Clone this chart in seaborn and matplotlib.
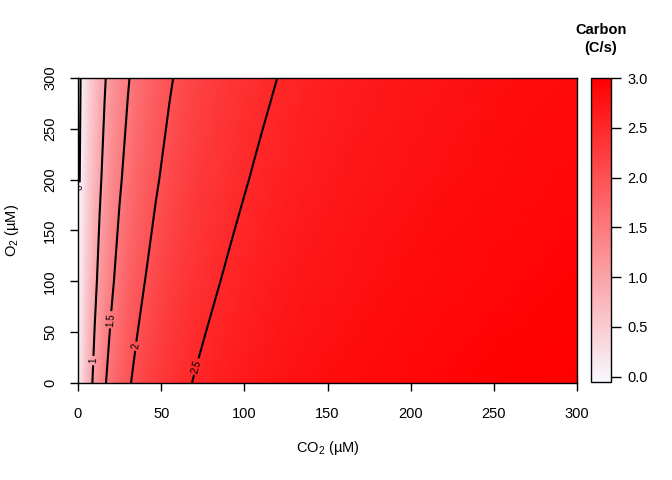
import numpy as np
import matplotlib
matplotlib.use("Agg")
import matplotlib.pyplot as plt
import seaborn as sns

# ---- data ----
co2 = [1, 2, 4, 6, 8, 10, 13, 16, 20, 25, 30, 35, 40, 47, 55,
       62, 66, 70, 75, 80, 85, 90, 95, 100, 105, 110, 115, 120, 125, 135,
       160, 200, 250, 300]
o2 = [0, 100, 200, 300]
carbon_o2_0 = [0.160, 0.305, 0.557, 0.769, 0.949, 1.104, 1.300, 1.463, 1.640,
               1.817, 1.957, 2.071, 2.166, 2.275, 2.374,
               2.445, 2.480, 2.512, 2.548, 2.580, 2.610, 2.636, 2.661, 2.683,
               2.703, 2.722, 2.740, 2.756, 2.771, 2.798,
               2.853, 2.915, 2.966, 3.000]
carbon_o2_100 = [0.064, 0.188, 0.410, 0.601, 0.767, 0.914, 1.103, 1.263, 1.442,
                 1.624, 1.771, 1.893, 1.996, 2.115, 2.225,
                 2.305, 2.347, 2.384, 2.425, 2.462, 2.496, 2.527, 2.555, 2.581,
                 2.605, 2.627, 2.647, 2.667, 2.684, 2.716,
                 2.779, 2.852, 2.914, 2.957]
carbon_o2_200 = [-0.005, 0.105, 0.302, 0.475, 0.629, 0.766, 0.947, 1.102, 1.279,
                 1.461, 1.612, 1.739, 1.847, 1.973, 2.092,
                 2.178, 2.222, 2.263, 2.309, 2.351, 2.390, 2.424, 2.456, 2.485,
                 2.512, 2.537, 2.560, 2.581, 2.601, 2.638,
                 2.710, 2.794, 2.864, 2.914]
carbon_o2_300 = [-0.055, 0.042, 0.219, 0.378, 0.520, 0.649, 0.820, 0.970, 1.142,
                 1.323, 1.475, 1.604, 1.715, 1.847, 1.971,
                 2.062, 2.110, 2.153, 2.202, 2.247, 2.289, 2.327, 2.363, 2.395,
                 2.424, 2.452, 2.477, 2.501, 2.523, 2.564,
                 2.643, 2.737, 2.815, 2.872]
contour_levels = [0, 1, 1.5, 2, 2.5]
axis_ticks = [0, 50, 100, 150, 200, 250, 300]
cbar_ticks = [0.0, 0.5, 1.0, 1.5, 2.0, 2.5, 3.0]
label_spots = [(1.3, 190), (10.2, 22), (20.8, 62), (35.3, 36), (71.4, 16)]

sns.set_style("ticks")
plt.rcParams["font.family"] = ["Liberation Sans", "DejaVu Sans"]
plt.rcParams["mathtext.fontset"] = "custom"
plt.rcParams["mathtext.rm"] = "Liberation Sans"
plt.rcParams["mathtext.it"] = "Liberation Sans:italic"
plt.rcParams["text.color"] = "black"
plt.rcParams["axes.labelcolor"] = "black"
plt.rcParams["xtick.color"] = "black"
plt.rcParams["ytick.color"] = "black"

X, Y = np.meshgrid(np.array(co2, float), np.array(o2, float))
Z = np.array([carbon_o2_0, carbon_o2_100, carbon_o2_200, carbon_o2_300])

cmap = sns.blend_palette(["ghostwhite", "red"], as_cmap=True)
norm = matplotlib.colors.Normalize(vmin=Z.min(), vmax=3.0)

W, H = 672, 480
fig = plt.figure(figsize=(6.72, 4.8), dpi=100)
ax = fig.add_axes([78 / W, 1 - 383 / H, (577 - 78) / W, (383 - 78) / H])
cax = fig.add_axes([591 / W, 1 - 382 / H, 20 / W, (382 - 78) / H])

mesh = ax.pcolormesh(X, Y, Z, cmap=cmap, norm=norm, shading="gouraud")
cs = ax.contour(X, Y, Z, levels=contour_levels, colors="black", linewidths=1.5)
ax.clabel(cs, fmt=lambda v: f"{v:g}", fontsize=7, inline=True,
          inline_spacing=2, manual=label_spots)

ax.set_xlim(0, 300)
ax.set_ylim(0, 300)
ax.set_xticks(axis_ticks)
ax.set_yticks(axis_ticks)
ax.set_yticklabels([str(t) for t in axis_ticks], rotation=90, va="center")
ax.tick_params(axis="both", direction="out", length=6, width=1, labelsize=10.5,
               color="black", labelcolor="black")
ax.tick_params(axis="x", pad=11)
ax.tick_params(axis="y", pad=9)
for s in ax.spines.values():
    s.set_visible(True)
    s.set_color("black")
    s.set_linewidth(1)
ax.set_xlabel("CO$_2$ (µM)", fontsize=10.5, labelpad=13)
ax.set_ylabel("O$_2$ (µM)", fontsize=10.5, labelpad=16)

cb = fig.colorbar(mesh, cax=cax)
cb.set_ticks(cbar_ticks)
cb.set_ticklabels([f"{t:.1f}" for t in cbar_ticks])
cb.outline.set_edgecolor("black")
cb.outline.set_linewidth(1)
cax.tick_params(direction="out", length=7, width=1, labelsize=10.5, pad=5,
                color="black", labelcolor="black")

fig.text(601 / W, 1 - 39 / H, "Carbon\n(C/s)", ha="center", va="center",
         fontsize=10.5, fontweight="bold", linespacing=1.35, color="black")

fig.savefig("out.png", dpi=100)
